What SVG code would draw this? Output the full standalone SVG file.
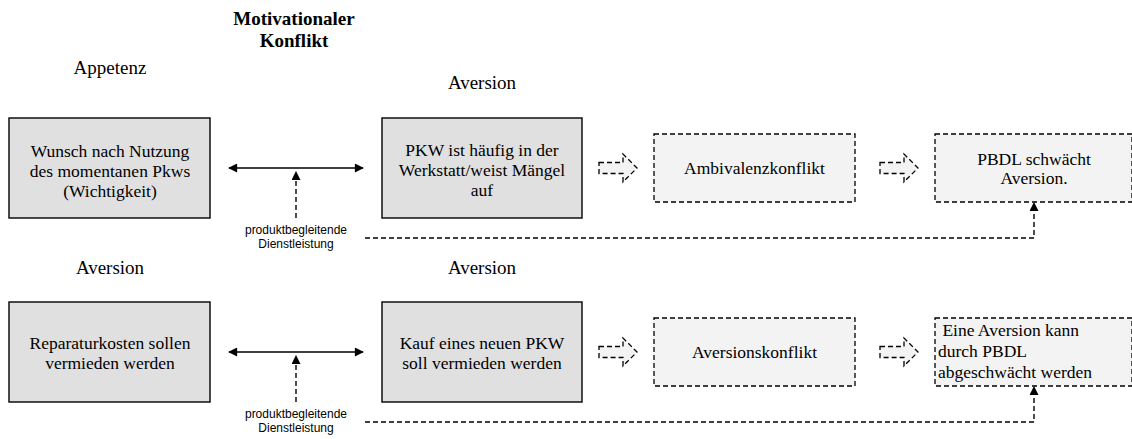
<svg xmlns="http://www.w3.org/2000/svg" width="1132" height="439" viewBox="0 0 1132 439">
  <style>
    .serif { font-family: "Liberation Serif", "Times New Roman", serif; font-size: 17.5px; fill: #000; }
    .lbl { font-family: "Liberation Serif", "Times New Roman", serif; font-size: 19px; fill: #000; }
    .title { font-family: "Liberation Serif", "Times New Roman", serif; font-size: 19px; font-weight: bold; fill: #000; }
    .small { font-family: "Liberation Sans", Arial, sans-serif; font-size: 12px; fill: #000; }
    .pre { white-space: pre; }
    .solid { fill: #e0e0e0; stroke: #000; stroke-width: 1.4; }
    .dashed { fill: #f3f3f3; stroke: #000; stroke-width: 1.3; stroke-dasharray: 5 3; }
    .line { fill: none; stroke: #000; stroke-width: 1.6; }
    .dline { fill: none; stroke: #000; stroke-width: 1.4; stroke-dasharray: 5 3; }
  </style>
  <defs>
    <marker id="tip" viewBox="0 0 10 10" refX="9" refY="5" markerWidth="10" markerHeight="9" markerUnits="userSpaceOnUse" orient="auto-start-reverse">
      <path d="M0,0 L10,5 L0,10 Z" fill="#000"/>
    </marker>
    <path id="hollow" d="M0,-5.5 H24 V-14 L38,0 L24,14 V5.5 H0 Z"/>
  </defs>

  <rect width="1132" height="439" fill="#fff"/>

  <!-- headings -->
  <g id="heading">
    <text class="title" x="294" y="25" text-anchor="middle">Motivationaler</text>
    <text class="title" x="294" y="47" text-anchor="middle">Konflikt</text>
  </g>
  <g id="labels" class="lbl" text-anchor="middle">
    <text x="110" y="74">Appetenz</text>
    <text x="482" y="89">Aversion</text>
    <text x="110" y="274">Aversion</text>
    <text x="482" y="274">Aversion</text>
  </g>

  <!-- row 1 -->
  <g id="wunsch">
    <rect class="solid" x="9" y="118" width="201" height="100"/>
    <text class="serif" text-anchor="middle" x="110" y="157">Wunsch nach Nutzung</text>
    <text class="serif" text-anchor="middle" x="110" y="177">des momentanen Pkws</text>
    <text class="serif" text-anchor="middle" x="110" y="197">(Wichtigkeit)</text>
  </g>
  <g id="pkw-werkstatt">
    <rect class="solid" x="382" y="118" width="200" height="100"/>
    <text class="serif" text-anchor="middle" x="482" y="156">PKW ist häufig in der</text>
    <text class="serif" text-anchor="middle" x="482" y="176">Werkstatt/weist Mängel</text>
    <text class="serif" text-anchor="middle" x="482" y="196">auf</text>
  </g>
  <g id="ambivalenz">
    <rect class="dashed" x="654" y="134" width="201" height="68"/>
    <text class="serif" text-anchor="middle" x="754.5" y="174">Ambivalenzkonflikt</text>
  </g>
  <g id="pbdl-1">
    <rect class="dashed" x="935" y="134" width="197" height="68"/>
    <text class="serif" text-anchor="middle" x="1034" y="165">PBDL schwächt</text>
    <text class="serif" text-anchor="middle" x="1034" y="184">Aversion.</text>
  </g>
  <g id="dl-1">
    <text class="small" text-anchor="middle" x="296" y="234">produktbegleitende</text>
    <text class="small" text-anchor="middle" x="296" y="248">Dienstleistung</text>
  </g>

  <!-- row 2 -->
  <g id="reparatur">
    <rect class="solid" x="9" y="302" width="201" height="100"/>
    <text class="serif" text-anchor="middle" x="110" y="349">Reparaturkosten sollen</text>
    <text class="serif" text-anchor="middle" x="110" y="369">vermieden werden</text>
  </g>
  <g id="neukauf">
    <rect class="solid" x="382" y="302" width="200" height="100"/>
    <text class="serif" text-anchor="middle" x="482" y="349">Kauf eines neuen PKW</text>
    <text class="serif" text-anchor="middle" x="482" y="369">soll vermieden werden</text>
  </g>
  <g id="aversionskonflikt">
    <rect class="dashed" x="654" y="318" width="201" height="68"/>
    <text class="serif" text-anchor="middle" x="754.5" y="358">Aversionskonflikt</text>
  </g>
  <g id="pbdl-2">
    <rect class="dashed" x="935" y="318" width="197" height="68"/>
    <text class="serif pre" x="938" y="336"> Eine Aversion kann</text>
    <text class="serif" x="938" y="357">durch PBDL</text>
    <text class="serif" x="938" y="378">abgeschwächt werden</text>
  </g>
  <g id="dl-2">
    <text class="small" text-anchor="middle" x="296" y="418">produktbegleitende</text>
    <text class="small" text-anchor="middle" x="296" y="432">Dienstleistung</text>
  </g>

  <!-- connectors -->
  <g id="connectors">
    <path class="line" d="M229,168 H363" marker-start="url(#tip)" marker-end="url(#tip)"/>
    <path class="dline" d="M296,218 V172" marker-end="url(#tip)"/>
    <path class="dline" d="M365,238 H1034 V203" marker-end="url(#tip)"/>
    <use href="#hollow" x="599" y="168" class="dashed"/>
    <use href="#hollow" x="880" y="168" class="dashed"/>

    <path class="line" d="M229,352 H363" marker-start="url(#tip)" marker-end="url(#tip)"/>
    <path class="dline" d="M296,402 V356" marker-end="url(#tip)"/>
    <path class="dline" d="M365,422 H1034 V387" marker-end="url(#tip)"/>
    <use href="#hollow" x="599" y="352" class="dashed"/>
    <use href="#hollow" x="880" y="352" class="dashed"/>
  </g>
</svg>
